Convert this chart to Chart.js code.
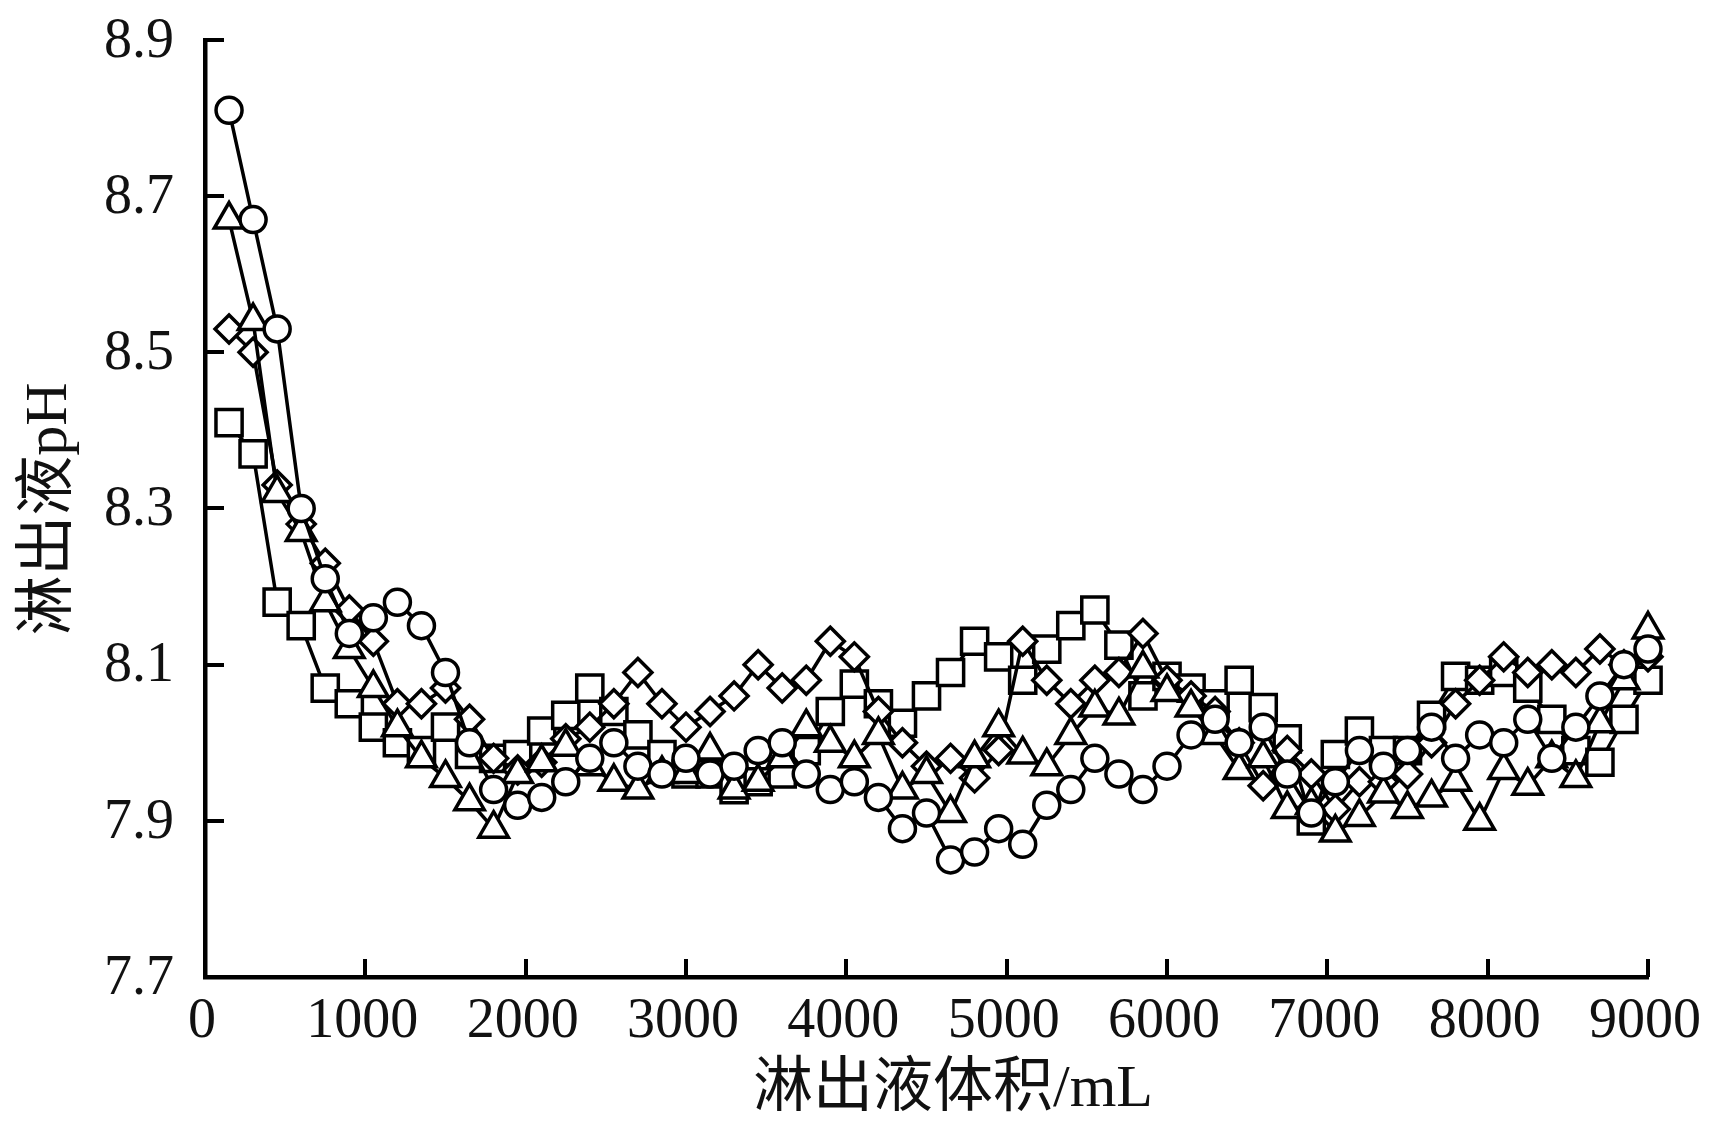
<!DOCTYPE html>
<html>
<head>
<meta charset="utf-8">
<script src="https://cdn.jsdelivr.net/npm/chart.js@4.4.1/dist/chart.umd.min.js"></script>
<style>
  html, body { margin: 0; padding: 0; background: #fff; }
  #wrap { width: 1726px; height: 1133px; position: relative; }
</style>
</head>
<body>
<div id="wrap"><canvas id="chart"></canvas></div>
<script>
// ============================================
// DATA
// ============================================

const volumes = [
    150, 300, 450, 600, 750, 900, 1050, 1200, 1350, 1500,
    1650, 1800, 1950, 2100, 2250, 2400, 2550, 2700, 2850, 3000,
    3150, 3300, 3450, 3600, 3750, 3900, 4050, 4200, 4350, 4500,
    4650, 4800, 4950, 5100, 5250, 5400, 5550, 5700, 5850, 6000,
    6150, 6300, 6450, 6600, 6750, 6900, 7050, 7200, 7350, 7500,
    7650, 7800, 7950, 8100, 8250, 8400, 8550, 8700, 8850, 9000
];

const phCircle = [
    8.81, 8.67, 8.53, 8.30, 8.21, 8.14, 8.16, 8.18, 8.15, 8.09,
    8.00, 7.94, 7.92, 7.93, 7.95, 7.98, 8.00, 7.97, 7.96, 7.98,
    7.96, 7.97, 7.99, 8.00, 7.96, 7.94, 7.95, 7.93, 7.89, 7.91,
    7.85, 7.86, 7.89, 7.87, 7.92, 7.94, 7.98, 7.96, 7.94, 7.97,
    8.01, 8.03, 8.00, 8.02, 7.96, 7.91, 7.95, 7.99, 7.97, 7.99,
    8.02, 7.98, 8.01, 8.00, 8.03, 7.98, 8.02, 8.06, 8.10, 8.12
];

const phTriangle = [
    8.67, 8.54, 8.32, 8.27, 8.18, 8.12, 8.07, 8.02, 7.98, 7.955,
    7.925, 7.89, 7.96, 7.975, 7.995, 7.97, 7.95, 7.94, 7.96, 7.96,
    7.99, 7.94, 7.95, 7.98, 8.02, 8.00, 7.98, 8.01, 7.94, 7.96,
    7.91, 7.98, 8.02, 7.985, 7.97, 8.01, 8.045, 8.035, 8.095, 8.065,
    8.045, 8.01, 7.965, 7.98, 7.915, 7.92, 7.885, 7.905, 7.935, 7.915,
    7.93, 7.95, 7.90, 7.965, 7.945, 7.98, 7.955, 8.025, 8.08, 8.145
];

const phDiamond = [
    8.53, 8.50, 8.33, 8.28, 8.23, 8.17, 8.13, 8.05, 8.05, 8.07,
    8.03, 7.98, 7.965, 7.975, 8.005, 8.02, 8.05, 8.09, 8.05, 8.02,
    8.04, 8.06, 8.10, 8.07, 8.08, 8.13, 8.11, 8.04, 8.00, 7.97,
    7.98, 7.955, 7.99, 8.13, 8.08, 8.05, 8.08, 8.09, 8.14, 8.08,
    8.06, 8.04, 8.00, 7.945, 7.99, 7.96, 7.915, 7.95, 7.95, 7.96,
    8.00, 8.05, 8.08, 8.11, 8.09, 8.10, 8.09, 8.12, 8.10, 8.11
];

const phSquare = [
    8.41, 8.37, 8.18, 8.15, 8.07, 8.05, 8.02, 8.00, 7.99, 8.02,
    7.985, 7.98, 7.985, 8.015, 8.035, 8.07, 8.04, 8.01, 7.985, 7.96,
    7.96, 7.94, 7.95, 7.96, 7.99, 8.04, 8.075, 8.05, 8.025, 8.06,
    8.09, 8.13, 8.11, 8.08, 8.12, 8.15, 8.17, 8.125, 8.06, 8.085,
    8.07, 8.05, 8.08, 8.045, 8.005, 7.90, 7.985, 8.015, 7.99, 7.99,
    8.035, 8.085, 8.08, 8.09, 8.07, 8.03, 7.99, 7.975, 8.03, 8.08
];

const xTicks = [0, 1000, 2000, 3000, 4000, 5000, 6000, 7000, 8000, 9000];
const yTicks = [7.7, 7.9, 8.1, 8.3, 8.5, 8.7, 8.9];
const yTickLabels = ['7.7', '7.9', '8.1', '8.3', '8.5', '8.7', '8.9'];

const xTitle = '淋出液体积/mL';
const yTitle = '淋出液pH';

// ============================================
// HELPERS
// ============================================

const FONT = '"Liberation Serif", "Noto Sans CJK SC", serif';

function makeSeries(values, style, radius) {
    return {
        data: volumes.map((v, i) => ({ x: v, y: values[i] })),
        borderColor: '#000',
        borderWidth: 3.5,
        pointStyle: style,
        pointRadius: radius,
        pointHoverRadius: radius,
        pointBackgroundColor: '#fff',
        pointBorderColor: '#000',
        pointBorderWidth: 3.5,
        tension: 0,
        clip: false
    };
}

// tick marks point inward, labels and titles drawn by hand
const axisDecor = {
    id: 'axisDecor',
    beforeDatasetsDraw(chart) {
        const { ctx, chartArea, scales: { x, y } } = chart;
        ctx.save();
        ctx.strokeStyle = '#000';
        ctx.lineWidth = 4;
        ctx.beginPath();
        yTicks.forEach(v => {
            const py = Math.round(y.getPixelForValue(v));
            ctx.moveTo(chartArea.left, py);
            ctx.lineTo(chartArea.left + 19, py);
        });
        xTicks.forEach(v => {
            const px = Math.round(x.getPixelForValue(v));
            ctx.moveTo(px, chartArea.bottom);
            ctx.lineTo(px, chartArea.bottom - 18);
        });
        ctx.stroke();
        ctx.restore();
    },
    afterDraw(chart) {
        const { ctx, chartArea, scales: { x, y } } = chart;
        ctx.save();
        ctx.fillStyle = '#111';
        ctx.font = '56px ' + FONT;

        ctx.textAlign = 'right';
        ctx.textBaseline = 'middle';
        yTicks.forEach((v, i) => {
            ctx.fillText(yTickLabels[i], 174, y.getPixelForValue(v) + 2);
        });

        ctx.textAlign = 'center';
        xTicks.forEach(v => {
            ctx.fillText(String(v), x.getPixelForValue(v) - 3, 1022);
        });

        ctx.font = '60px ' + FONT;
        ctx.fillText(xTitle, 953, 1090);

        ctx.translate(50, 509);
        ctx.rotate(-Math.PI / 2);
        ctx.fillText(yTitle, 0, 0);
        ctx.restore();
    }
};

// ============================================
// RENDER
// ============================================

function renderChart() {
    const ctx = document.getElementById('chart');

    new Chart(ctx, {
        type: 'line',
        data: {
            datasets: [
                makeSeries(phCircle, 'circle', 13),
                makeSeries(phTriangle, 'triangle', 17),
                makeSeries(phDiamond, 'rectRot', 14),
                makeSeries(phSquare, 'rect', 18.5)
            ]
        },
        options: {
            responsive: true,
            maintainAspectRatio: false,
            animation: false,
            devicePixelRatio: 1,
            layout: {
                padding: { left: 205, right: 78, top: 40, bottom: 156 }
            },
            plugins: {
                legend: { display: false },
                tooltip: { enabled: false }
            },
            scales: {
                x: {
                    type: 'linear',
                    min: 0,
                    max: 9000,
                    grid: { display: false, drawTicks: false },
                    border: { display: true, color: '#000', width: 4.5 },
                    ticks: { display: false, stepSize: 1000 }
                },
                y: {
                    min: 7.7,
                    max: 8.9,
                    grid: { display: false, drawTicks: false },
                    border: { display: true, color: '#000', width: 4.5 },
                    ticks: { display: false, stepSize: 0.2 }
                }
            }
        },
        plugins: [axisDecor]
    });
}

renderChart();
</script>
</body>
</html>
